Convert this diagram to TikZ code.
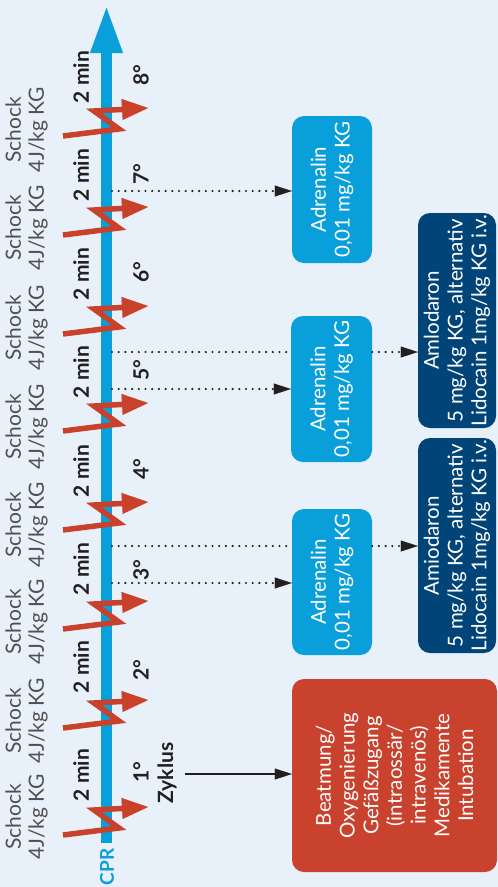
\documentclass[tikz,border=0pt]{standalone}
\usepackage{fontspec}
\setmainfont{Lato}
\usetikzlibrary{arrows.meta}
\definecolor{bg}{RGB}{232,241,250}
\definecolor{cprblue}{RGB}{9,159,218}
\definecolor{navy}{RGB}{0,68,120}
\definecolor{redbox}{RGB}{200,66,45}
\definecolor{boltred}{RGB}{201,65,43}
\definecolor{graytxt}{RGB}{80,80,80}
\definecolor{ink}{RGB}{35,31,32}
\begin{document}
\begin{tikzpicture}[x=1pt,y=-1pt,
  lbl/.style={rotate=90, inner sep=0pt, font=\fontsize{21}{24}\selectfont\bfseries, text=ink},
  shocklbl/.style={rotate=90, inner sep=0pt, align=center, font=\fontsize{21}{23}\selectfont, text=graytxt},
  box/.style={rotate=90, rounded corners=12pt, align=center, text=white, inner sep=0pt, font=\fontsize{20.5}{23.7}\selectfont},
  dots/.style={draw=ink, line width=2.4pt, dash pattern=on 0pt off 6.7pt, line cap=round},
  tip/.style={-{Triangle[length=17pt,width=11pt,line width=0.01pt]}},
  bolt/.style={draw=boltred, line width=5.5pt, line join=miter, -{Triangle[length=26pt,width=21pt,line width=0.01pt]}},
]
\useasboundingbox (0,0) rectangle (498,887);
\fill[bg] (0,0) rectangle (498,887);

% CPR axis
\coordinate (cprb) at (106.5,843);
\coordinate (cprt) at (106.5,8);
\draw[cprblue, line width=11pt, -{Triangle[length=45pt,width=33pt,line width=0.01pt]}] (cprb) -- (cprt);
\node[rotate=90, inner sep=0pt, text=cprblue, font=\fontsize{19}{22}\selectfont\bfseries] (cpr) at (107,867) {CPR};

% boxes
\node[box, fill=cprblue, minimum width=147pt, minimum height=80pt] (adr1) at (332,189.5) {Adrenalin\\0,01 mg/kg KG};
\node[box, fill=cprblue, minimum width=146pt, minimum height=81pt] (adr2) at (331.5,389) {Adrenalin\\0,01 mg/kg KG};
\node[box, fill=cprblue, minimum width=146pt, minimum height=80pt] (adr3) at (332,582) {Adrenalin\\0,01 mg/kg KG};
\node[box, fill=navy, minimum width=215pt, minimum height=78pt] (amio1) at (457,320.5) {Amlodaron\\5 mg/kg KG, alternativ\\Lidocain 1mg/kg KG i.v.};
\node[box, fill=navy, minimum width=215pt, minimum height=78pt] (amio2) at (457,545.5) {Amiodaron\\5 mg/kg KG, alternativ\\Lidocain 1mg/kg KG i.v.};
\node[box, fill=redbox, minimum width=193pt, minimum height=205pt] (red) at (394.5,775.5) {Beatmung/\\Oxygenierung\\Gefäßzugang\\(intraossär/\\intravenös)\\Medikamente\\Intubation};

% dotted connectors
\coordinate (d7) at (112,191);
\coordinate (d5a) at (112,352);
\coordinate (d5b) at (112,389);
\coordinate (d3a) at (112,546);
\coordinate (d3b) at (112,583);
\draw[dots, tip] (d7) -- (d7 -| adr1.north);
\draw[dots] (d5a) -- (d5a -| adr2.north);
\draw[dots, tip] (d5a -| adr2.south) -- (d5a -| amio1.north);
\draw[dots, tip] (d5b) -- (d5b -| adr2.north);
\draw[dots] (d3a) -- (d3a -| adr3.north);
\draw[dots, tip] (d3a -| adr3.south) -- (d3a -| amio2.north);
\draw[dots, tip] (d3b) -- (d3b -| adr3.north);

% shocks
\foreach \t in {807,700,601,502,403,306,207,108}
  \draw[bolt] (63,{\t+28}) -- (119,{\t+21}) -- (94,{\t+3}) -- (148,\t);

\foreach \s [count=\i] in {817,721,622,525,427,328,228,130}
  \node[shocklbl] (sh\i) at (26.5,\s) {Schock\\4J/kg KG};

% 2 min labels
\foreach \m [count=\i] in {775,667,569,471,372,274,175,77}
  \node[lbl] (min\i) at (81,\m) {2 min};

% cycle numbers
\foreach \c [count=\i] in {772,670,570,469,370,272,174,75}
  \node[lbl] (cy\i) at (141,\c) {\i°};

\node[lbl] (zyk) at (167,773) {Zyklus};
\coordinate (zstart) at (185,774);
\draw[ink, line width=2pt, tip] (zstart) -- (zstart -| red.north);
\end{tikzpicture}
\end{document}
